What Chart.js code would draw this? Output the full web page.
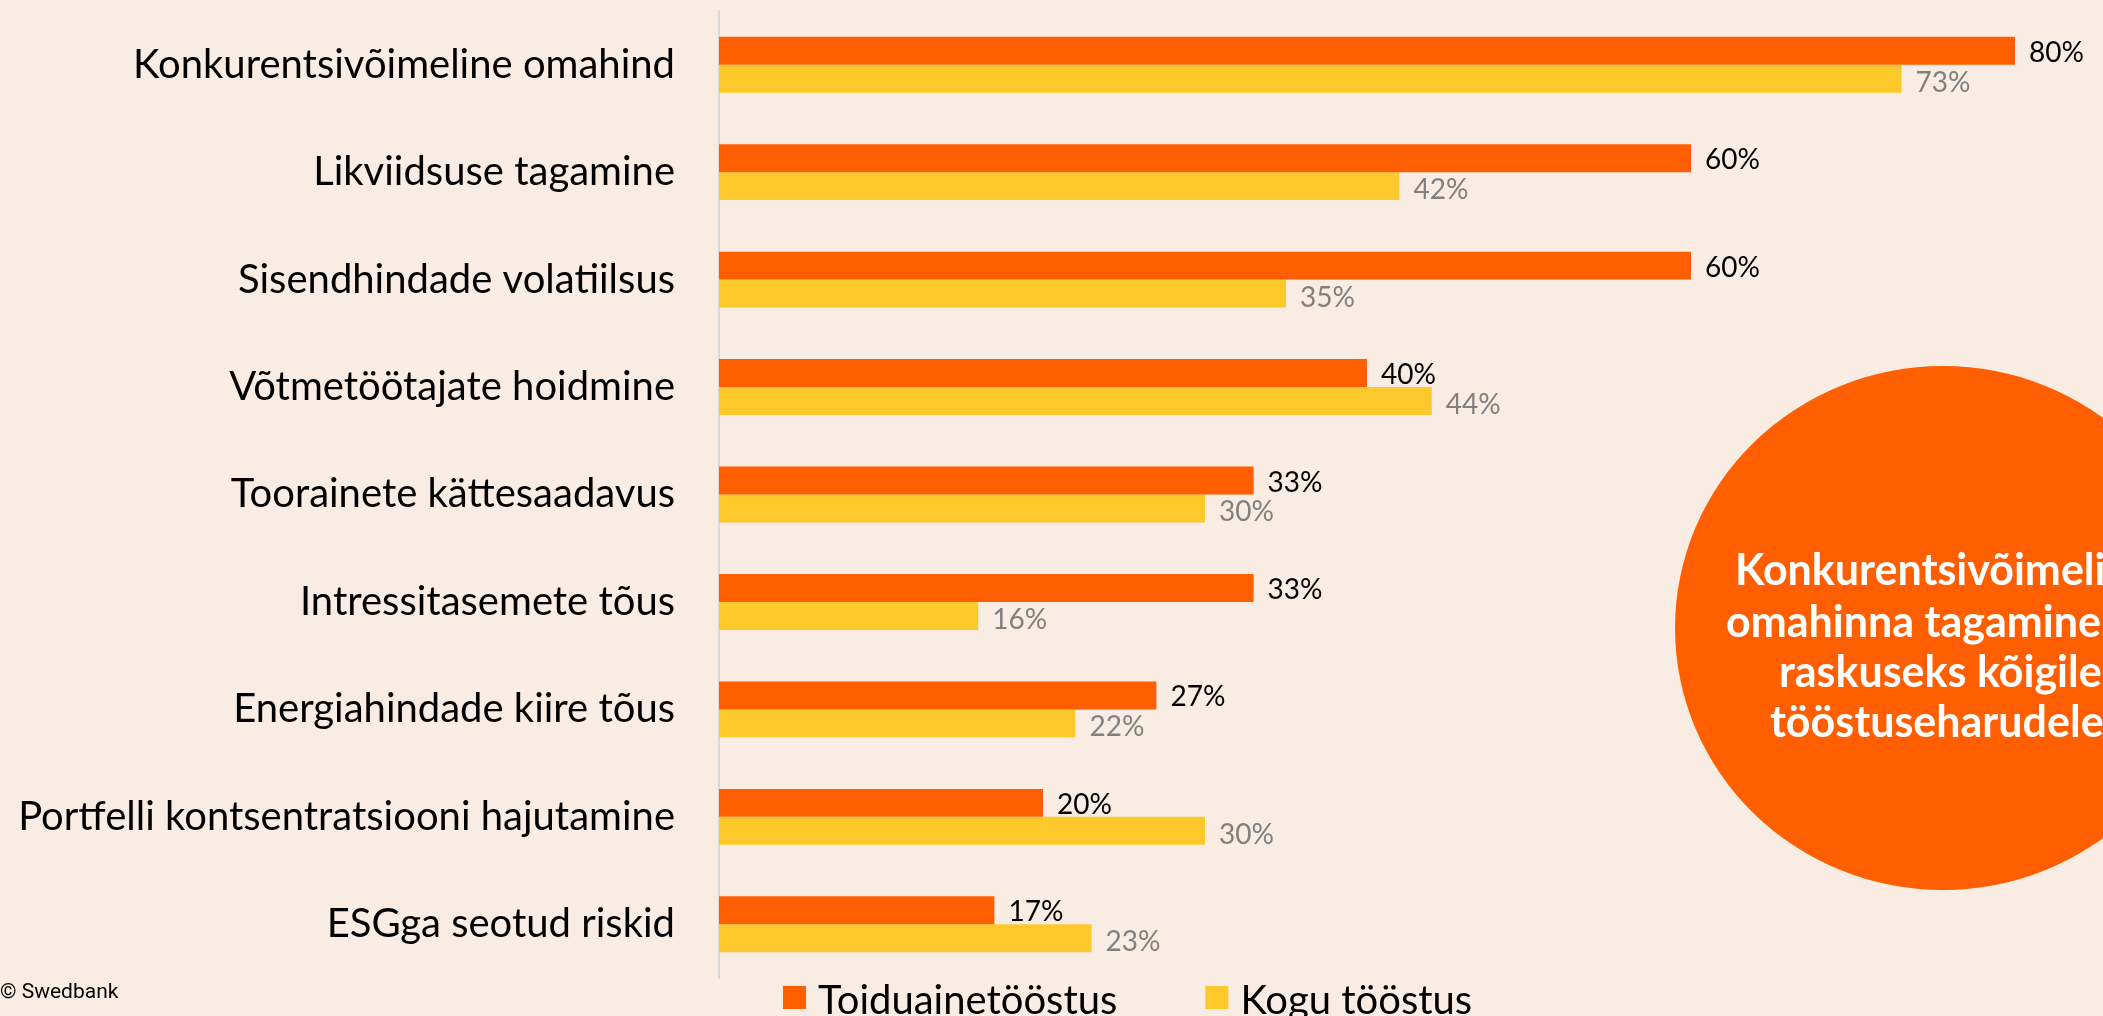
<!DOCTYPE html>
<html>
<head>
<meta charset="utf-8">
<script src="https://cdn.jsdelivr.net/npm/chart.js@4"></script>
<style>
  html, body { margin: 0; padding: 0; background: #f9ede3; overflow: hidden; }
  #wrap { width: 2103px; height: 1016px; position: relative; }
</style>
</head>
<body>
<div id="wrap"><canvas id="chart"></canvas></div>
<script>
// categories, top to bottom
const categories = [
  "Konkurentsivõimeline omahind",
  "Likviidsuse tagamine",
  "Sisendhindade volatiilsus",
  "Võtmetöötajate hoidmine",
  "Toorainete kättesaadavus",
  "Intressitasemete tõus",
  "Energiahindade kiire tõus",
  "Portfelli kontsentratsiooni hajutamine",
  "ESGga seotud riskid"
];
const foodIndustry = [80, 60, 60, 40, 33, 33, 27, 20, 17];
const allIndustry = [73, 42, 35, 44, 30, 16, 22, 30, 23];
const seriesNames = ["Toiduainetööstus", "Kogu tööstus"];
const calloutLines = [
  "Konkurentsivõimelise",
  "omahinna tagamine on",
  "raskuseks kõigile",
  "tööstuseharudele"
];

const ORANGE = "#ff5f00";
const YELLOW = "#fdc82c";

//value labels next to each bar
const valueLabels = {
  id: "valueLabels",
  afterDatasetsDraw(chart){
    const ctx = chart.ctx;
    ctx.save();
    ctx.font = "28px Lato";
    ctx.textBaseline = "middle";
    ctx.textAlign = "left";
    chart.data.datasets.forEach((ds, i) => {
      const meta = chart.getDatasetMeta(i);
      ctx.fillStyle = i === 0 ? "#000000" : "#808080";
      meta.data.forEach((bar, j) => {
        ctx.fillText(ds.data[j] + "%", bar.x + 14, bar.y + (i === 0 ? 2 : 4));
      });
    });
    ctx.restore();
  }
};

//legend + circle + copyright
const extras = {
  id: "extras",
  afterDraw(chart){
    const ctx = chart.ctx;
    const area = chart.chartArea;
    ctx.save();

    // legend
    ctx.font = "40px Lato";
    ctx.textBaseline = "alphabetic";
    let x = area.left + 64;
    chart.data.datasets.forEach((ds) => {
      ctx.fillStyle = ds.backgroundColor;
      ctx.fillRect(x, 986, 23, 23);
      ctx.fillStyle = "#000000";
      ctx.fillText(ds.label, x + 35, 1014);
      x += 35 + ctx.measureText(ds.label).width + 88;
    });

    // copyright
    ctx.font = "21px Roboto";
    ctx.fillStyle = "#000000";
    ctx.textBaseline = "middle";
    ctx.fillText("© Swedbank", 0, 993);

    // callout circle (runs off the right edge)
    const cx = 1943, cy = 628;
    ctx.beginPath();
    ctx.ellipse(cx, cy, 268, 262, 0, 0, Math.PI * 2);
    ctx.fillStyle = ORANGE;
    ctx.fill();
    ctx.fillStyle = "#ffffff";
    ctx.font = "bold 43px Lato";
    ctx.textAlign = "left";
    ctx.textBaseline = "alphabetic";
    const lineStarts = [1735, 1726, 1779, 1770];
    const baselines = [585, 637, 687, 737];
    calloutLines.forEach((line, i) => {
      ctx.fillText(line, lineStarts[i], baselines[i]);
    });

    ctx.restore();
  }
};

const canvas = document.getElementById("chart");
canvas.width = 2103;
canvas.height = 1016;

new Chart(canvas.getContext("2d"), {
  type: "bar",
  data: {
    labels: categories,
    datasets: [
      { label: seriesNames[0], data: foodIndustry, backgroundColor: ORANGE },
      { label: seriesNames[1], data: allIndustry, backgroundColor: YELLOW }
    ]
  },
  options: {
    indexAxis: "y",
    responsive: false,
    animation: false,
    devicePixelRatio: 1,
    layout: { padding: { top: 11, bottom: 38, right: 7, left: 0 } },
    datasets: { bar: { barPercentage: 1, categoryPercentage: 0.52 } },
    plugins: {
      legend: { display: false },
      tooltip: { enabled: false }
    },
    scales: {
      x: { display: false, min: 0, max: 85 },
      y: {
        afterFit(scale){
          scale.width = 719;
          //labels must not push the plot area in
          scale.paddingTop = 0;
          scale.paddingBottom = 0;
        },
        grid: { display: false, drawTicks: false },
        border: { display: true, color: "#d9d9d9", width: 2 },
        ticks: {
          color: "#000000",
          padding: 44,
          font: { family: "Lato", size: 40 }
        }
      }
    }
  },
  plugins: [valueLabels, extras]
});
</script>
</body>
</html>
